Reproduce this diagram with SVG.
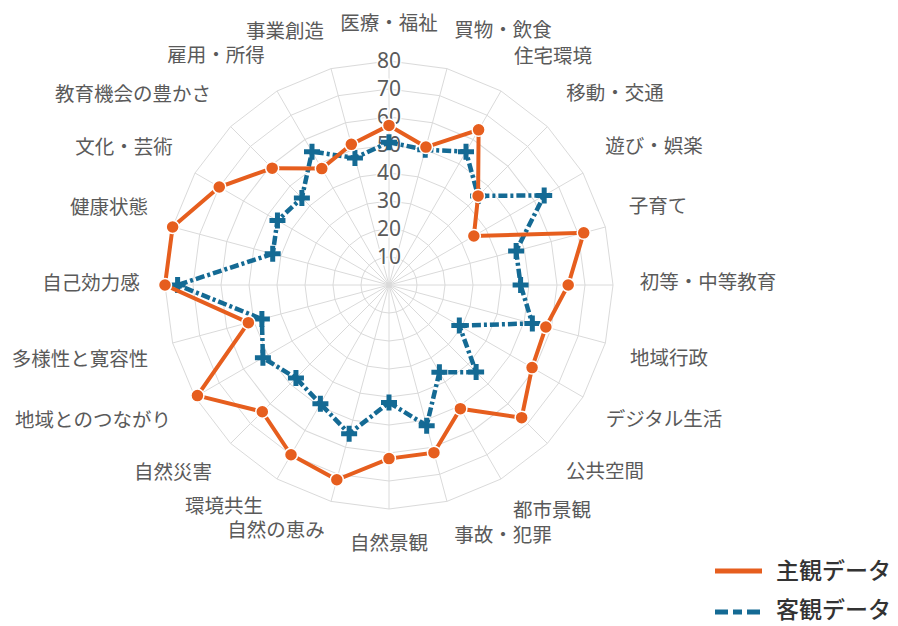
<svg xmlns="http://www.w3.org/2000/svg" xmlns:xlink="http://www.w3.org/1999/xlink" width="898" height="626" viewBox="0 0 898 626">
<style>
.grid{fill:none;stroke:#dadada;stroke-width:1}
.lbl{font-family:"Noto Sans CJK JP","Noto Sans",sans-serif;font-size:19.5px;fill:#5a5a5a;text-anchor:middle}
.tick{font-family:"Noto Sans","Liberation Sans",sans-serif;font-size:21px;fill:#5a5a5a;text-anchor:middle;stroke:#fff;stroke-width:3;paint-order:stroke}
.leg{font-family:"Noto Sans CJK JP",sans-serif;font-size:23px;fill:#333;font-weight:500}
.s1{fill:none;stroke:#e65e1e;stroke-width:4}
.s2{fill:none;stroke:#146a94;stroke-width:4.5;stroke-dasharray:9 3 3 3}
.m1{fill:#e65e1e;stroke:#fff;stroke-width:1.5}
.m2{fill:none;stroke:#146a94;stroke-width:5}
</style>
<defs>
<polygon id="ring" points="0,-28 7.247,-27.046 14,-24.249 19.799,-19.799 24.249,-14 27.046,-7.247 28,0 27.046,7.247 24.249,14 19.799,19.799 14,24.249 7.247,27.046 0,28 -7.247,27.046 -14,24.249 -19.799,19.799 -24.249,14 -27.046,7.247 -28,0 -27.046,-7.247 -24.249,-14 -19.799,-19.799 -14,-24.249 -7.247,-27.046"/>
<circle id="o" r="6.5" class="m1"/>
<path id="p" d="M-8 0H8M0-8V8" class="m2"/>
</defs>
<rect width="898" height="626" fill="#fff"/>
<g id="grid" transform="translate(389,285)">
<path class="grid" d="M0,-224L0,224M57.98,-216.37L-57.98,216.37M112,-193.99L-112,193.99M158.39,-158.39L-158.39,158.39M193.99,-112L-193.99,112M216.37,-57.98L-216.37,57.98M224,0L-224,0M216.37,57.98L-216.37,-57.98M193.99,112L-193.99,-112M158.39,158.39L-158.39,-158.39M112,193.99L-112,-193.99M57.98,216.37L-57.98,-216.37"/>
<use href="#ring" class="grid"/>
<use href="#ring" class="grid" transform="scale(2)" style="stroke-width:0.5"/>
<use href="#ring" class="grid" transform="scale(3)" style="stroke-width:0.3333"/>
<use href="#ring" class="grid" transform="scale(4)" style="stroke-width:0.25"/>
<use href="#ring" class="grid" transform="scale(5)" style="stroke-width:0.2"/>
<use href="#ring" class="grid" transform="scale(6)" style="stroke-width:0.16667"/>
<use href="#ring" class="grid" transform="scale(7)" style="stroke-width:0.142857"/>
<use href="#ring" class="grid" transform="scale(8)" style="stroke-width:0.125"/>
</g>
<g id="ticks">
<text class="tick" x="389" y="264">10</text>
<text class="tick" x="389" y="236">20</text>
<text class="tick" x="389" y="208">30</text>
<text class="tick" x="389" y="180">40</text>
<text class="tick" x="389" y="152">50</text>
<text class="tick" x="389" y="124">60</text>
<text class="tick" x="389" y="96">70</text>
<text class="tick" x="389" y="68">80</text>
</g>
<g id="series-objective" transform="translate(389,285)">
<polygon class="s2" points="0,-142.8 36.23,-135.23 77,-133.37 89.1,-89.1 155.19,-89.6 127.12,-34.06 131.6,0 143.34,38.41 70.32,40.6 87.12,87.12 50.4,87.3 37.68,140.64 0,117.6 -39.86,148.75 -68.6,118.82 -93.06,93.06 -126.09,72.8 -127.12,34.06 -211.4,0 -116.3,-31.16 -111.54,-64.4 -87.12,-87.12 -77,-133.37 -34.06,-127.12"/>
<use href="#p" x="0" y="-142.8"/><use href="#p" x="36.23" y="-135.23"/><use href="#p" x="77" y="-133.37"/><use href="#p" x="89.1" y="-89.1"/><use href="#p" x="155.19" y="-89.6"/><use href="#p" x="127.12" y="-34.06"/><use href="#p" x="131.6" y="0"/><use href="#p" x="143.34" y="38.41"/><use href="#p" x="70.32" y="40.6"/><use href="#p" x="87.12" y="87.12"/><use href="#p" x="50.4" y="87.3"/><use href="#p" x="37.68" y="140.64"/><use href="#p" x="0" y="117.6"/><use href="#p" x="-39.86" y="148.75"/><use href="#p" x="-68.6" y="118.82"/><use href="#p" x="-93.06" y="93.06"/><use href="#p" x="-126.09" y="72.8"/><use href="#p" x="-127.12" y="34.06"/><use href="#p" x="-211.4" y="0"/><use href="#p" x="-116.3" y="-31.16"/><use href="#p" x="-111.54" y="-64.4"/><use href="#p" x="-87.12" y="-87.12"/><use href="#p" x="-77" y="-133.37"/><use href="#p" x="-34.06" y="-127.12"/>
</g>
<g id="series-subjective" transform="translate(389,285)">
<polygon class="s1" points="0,-159.6 36.96,-137.93 89.6,-155.19 89.1,-89.1 84.87,-49 194.73,-52.18 179.2,0 156.87,42.03 143.07,82.6 132.65,132.65 71.4,123.67 44.93,167.68 0,173.6 -52.18,194.73 -98,169.74 -126.71,126.71 -191.56,110.6 -140.64,37.68 -224,0 -216.37,-57.98 -169.74,-98 -116.81,-116.81 -67.2,-116.39 -37.68,-140.64"/>
<use href="#o" x="0" y="-159.6"/><use href="#o" x="36.96" y="-137.93"/><use href="#o" x="89.6" y="-155.19"/><use href="#o" x="89.1" y="-89.1"/><use href="#o" x="84.87" y="-49"/><use href="#o" x="194.73" y="-52.18"/><use href="#o" x="179.2" y="0"/><use href="#o" x="156.87" y="42.03"/><use href="#o" x="143.07" y="82.6"/><use href="#o" x="132.65" y="132.65"/><use href="#o" x="71.4" y="123.67"/><use href="#o" x="44.93" y="167.68"/><use href="#o" x="0" y="173.6"/><use href="#o" x="-52.18" y="194.73"/><use href="#o" x="-98" y="169.74"/><use href="#o" x="-126.71" y="126.71"/><use href="#o" x="-191.56" y="110.6"/><use href="#o" x="-140.64" y="37.68"/><use href="#o" x="-224" y="0"/><use href="#o" x="-216.37" y="-57.98"/><use href="#o" x="-169.74" y="-98"/><use href="#o" x="-116.81" y="-116.81"/><use href="#o" x="-67.2" y="-116.39"/><use href="#o" x="-37.68" y="-140.64"/>
</g>
<g id="labels">
<text class="lbl" x="389" y="30">医療・福祉</text>
<text class="lbl" x="503" y="37">買物・飲食</text>
<text class="lbl" x="553" y="63">住宅環境</text>
<text class="lbl" x="615" y="100">移動・交通</text>
<text class="lbl" x="654" y="153">遊び・娯楽</text>
<text class="lbl" x="658" y="213">子育て</text>
<text class="lbl" x="708" y="289">初等・中等教育</text>
<text class="lbl" x="669" y="365">地域行政</text>
<text class="lbl" x="664" y="426">デジタル生活</text>
<text class="lbl" x="605" y="478">公共空間</text>
<text class="lbl" x="552" y="517">都市景観</text>
<text class="lbl" x="503" y="542">事故・犯罪</text>
<text class="lbl" x="389" y="550">自然景観</text>
<text class="lbl" x="276" y="537">自然の恵み</text>
<text class="lbl" x="224" y="513">環境共生</text>
<text class="lbl" x="173" y="479">自然災害</text>
<text class="lbl" x="93" y="427">地域とのつながり</text>
<text class="lbl" x="80" y="366">多様性と寛容性</text>
<text class="lbl" x="91" y="290">自己効力感</text>
<text class="lbl" x="109" y="214">健康状態</text>
<text class="lbl" x="124" y="154">文化・芸術</text>
<text class="lbl" x="133" y="101">教育機会の豊かさ</text>
<text class="lbl" x="216" y="62">雇用・所得</text>
<text class="lbl" x="285" y="38">事業創造</text>
</g>
<g id="legend">
<line x1="715" y1="571" x2="762" y2="571" stroke="#e65e1e" stroke-width="5"/>
<text class="leg" x="776" y="579">主観データ</text>
<line x1="715" y1="612" x2="762" y2="612" stroke="#146a94" stroke-width="5" stroke-dasharray="13 5 9 5"/>
<text class="leg" x="776" y="618">客観データ</text>
</g>
</svg>
